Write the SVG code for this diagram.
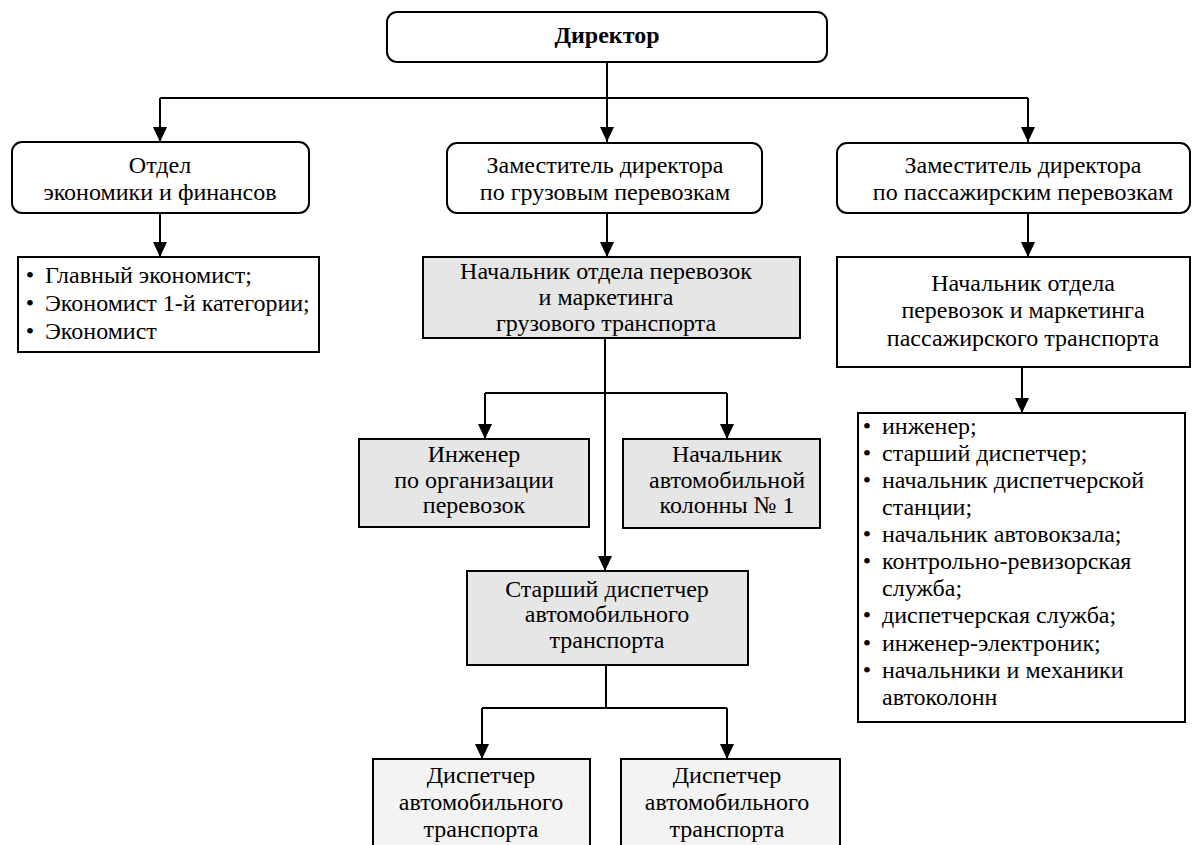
<svg xmlns="http://www.w3.org/2000/svg" width="1198" height="845" viewBox="0 0 1198 845">
<style>
text{font-family:"Liberation Serif",serif;font-size:24px;fill:#000}
.c{text-anchor:middle}
.b{font-weight:bold}
.box{fill:#fff;stroke:#000;stroke-width:2}
.g{fill:#e6e6e6;stroke:#000;stroke-width:2}
.lg{fill:#f3f3f3;stroke:#000;stroke-width:2}
.ln{fill:none;stroke:#000;stroke-width:2}
</style>
<defs>
<marker id="ah" markerUnits="userSpaceOnUse" markerWidth="16" markerHeight="16" viewBox="0 0 16 16" refX="15" refY="8" orient="auto">
<path d="M0,1 L15,8 L0,15 Z" fill="#000"/>
</marker>
</defs>
<rect width="1198" height="845" fill="#fff"/>
<g id="connectors">
<path class="ln" d="M160,98 H1028"/>
<path class="ln" d="M607,62 V142" marker-end="url(#ah)"/>
<path class="ln" d="M160,98 V142" marker-end="url(#ah)"/>
<path class="ln" d="M1028,98 V142" marker-end="url(#ah)"/>
<path class="ln" d="M160,213 V257" marker-end="url(#ah)"/>
<path class="ln" d="M607,213 V257" marker-end="url(#ah)"/>
<path class="ln" d="M1028,213 V257" marker-end="url(#ah)"/>
<path class="ln" d="M1022,367 V413" marker-end="url(#ah)"/>
<path class="ln" d="M605,338 V571" marker-end="url(#ah)"/>
<path class="ln" d="M485,393 H727"/>
<path class="ln" d="M485,393 V439" marker-end="url(#ah)"/>
<path class="ln" d="M727,393 V439" marker-end="url(#ah)"/>
<path class="ln" d="M606,665 V708"/>
<path class="ln" d="M482,708 H727"/>
<path class="ln" d="M482,708 V759" marker-end="url(#ah)"/>
<path class="ln" d="M727,708 V759" marker-end="url(#ah)"/>
</g>
<g id="director">
<rect class="box" x="387" y="12" width="440" height="50" rx="10"/>
<text class="c b" x="607" y="43">Директор</text>
</g>
<g id="econ">
<rect class="box" x="12" y="142" width="297" height="71" rx="10"/>
<text class="c" x="160" y="173">Отдел</text>
<text class="c" x="160" y="200">экономики и финансов</text>
</g>
<g id="econ-list">
<rect class="box" x="18" y="257" width="301" height="95"/>
<text class="c" x="30" y="283">•</text><text x="45" y="283">Главный экономист;</text>
<text class="c" x="30" y="311">•</text><text x="45" y="311">Экономист 1-й категории;</text>
<text class="c" x="30" y="339">•</text><text x="45" y="339">Экономист</text>
</g>
<g id="dep-cargo">
<rect class="box" x="447" y="143" width="315" height="70" rx="10"/>
<text class="c" x="605" y="173">Заместитель директора</text>
<text class="c" x="605" y="200">по грузовым перевозкам</text>
</g>
<g id="head-cargo">
<rect class="g" x="423" y="257" width="377" height="81"/>
<text class="c" x="606" y="279">Начальник отдела перевозок</text>
<text class="c" x="606" y="305">и маркетинга</text>
<text class="c" x="606" y="331">грузового транспорта</text>
</g>
<g id="dep-pass">
<rect class="box" x="837" y="143" width="353" height="70" rx="10"/>
<text class="c" x="1023" y="173">Заместитель директора</text>
<text class="c" x="1023" y="200">по пассажирским перевозкам</text>
</g>
<g id="head-pass">
<rect class="box" x="837" y="257" width="353" height="110"/>
<text class="c" x="1023" y="291">Начальник отдела</text>
<text class="c" x="1023" y="318">перевозок и маркетинга</text>
<text class="c" x="1023" y="346">пассажирского транспорта</text>
</g>
<g id="pass-list">
<rect class="box" x="858" y="413" width="327" height="309"/>
<text class="c" x="867" y="434">•</text><text x="882" y="434">инженер;</text>
<text class="c" x="867" y="461">•</text><text x="882" y="461">старший диспетчер;</text>
<text class="c" x="867" y="488">•</text><text x="882" y="488">начальник диспетчерской</text>
<text x="882" y="515">станции;</text>
<text class="c" x="867" y="542">•</text><text x="882" y="542">начальник автовокзала;</text>
<text class="c" x="867" y="569">•</text><text x="882" y="569">контрольно-ревизорская</text>
<text x="882" y="596">служба;</text>
<text class="c" x="867" y="623">•</text><text x="882" y="623">диспетчерская служба;</text>
<text class="c" x="867" y="651">•</text><text x="882" y="651">инженер-электроник;</text>
<text class="c" x="867" y="678">•</text><text x="882" y="678">начальники и механики</text>
<text x="882" y="705">автоколонн</text>
</g>
<g id="engineer">
<rect class="g" x="359" y="439" width="230" height="88"/>
<text class="c" x="474" y="462">Инженер</text>
<text class="c" x="474" y="488">по организации</text>
<text class="c" x="474" y="513">перевозок</text>
</g>
<g id="column">
<rect class="g" x="623" y="439" width="197" height="89"/>
<text class="c" x="727" y="462">Начальник</text>
<text class="c" x="727" y="488">автомобильной</text>
<text class="c" x="727" y="513">колонны № 1</text>
</g>
<g id="senior-disp">
<rect class="g" x="467" y="571" width="281" height="94"/>
<text class="c" x="607" y="597">Старший диспетчер</text>
<text class="c" x="607" y="622">автомобильного</text>
<text class="c" x="607" y="648">транспорта</text>
</g>
<g id="disp1">
<rect class="lg" x="373" y="759" width="217" height="100"/>
<text class="c" x="481" y="783">Диспетчер</text>
<text class="c" x="481" y="810">автомобильного</text>
<text class="c" x="481" y="837">транспорта</text>
</g>
<g id="disp2">
<rect class="lg" x="621" y="759" width="219" height="100"/>
<text class="c" x="727" y="783">Диспетчер</text>
<text class="c" x="727" y="810">автомобильного</text>
<text class="c" x="727" y="837">транспорта</text>
</g>
</svg>
